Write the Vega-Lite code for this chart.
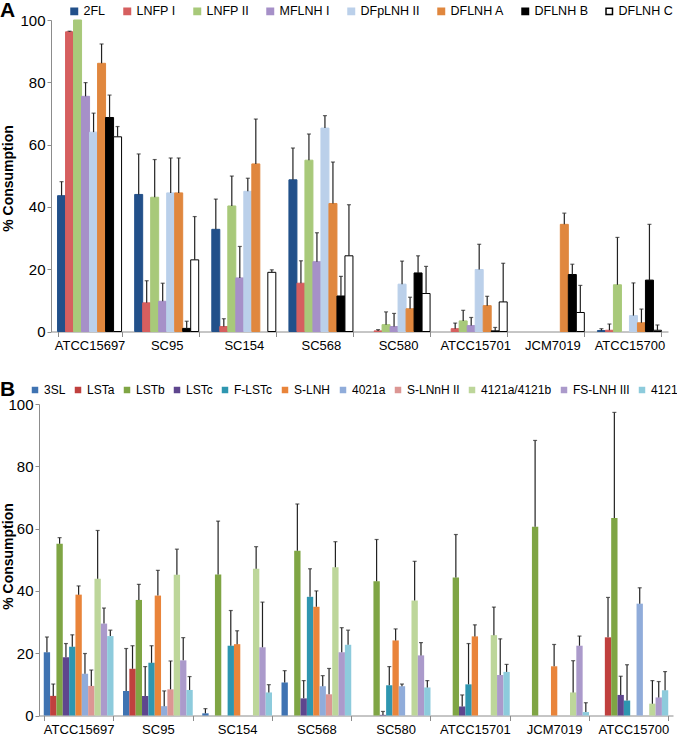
{
  "$schema": "https://vega.github.io/schema/vega-lite/v6.json",
  "padding": {"left": 0, "top": 5, "right": 0, "bottom": 0},
  "datasets": {
    "A": [
      {"strain": "ATCC15697", "hmo": "2FL", "value": 43.6, "upper": 48.1},
      {"strain": "ATCC15697", "hmo": "LNFP I", "value": 96.2, "upper": 96.4},
      {"strain": "ATCC15697", "hmo": "LNFP II", "value": 100, "upper": null},
      {"strain": "ATCC15697", "hmo": "MFLNH I", "value": 75.5, "upper": 79.9},
      {"strain": "ATCC15697", "hmo": "DFpLNH II", "value": 64.0, "upper": 70.1},
      {"strain": "ATCC15697", "hmo": "DFLNH A", "value": 86.1, "upper": 92.3},
      {"strain": "ATCC15697", "hmo": "DFLNH B", "value": 68.7, "upper": 75.9},
      {"strain": "ATCC15697", "hmo": "DFLNH C", "value": 62.5, "upper": 65.8},
      {"strain": "SC95", "hmo": "2FL", "value": 44.0, "upper": 57.0},
      {"strain": "SC95", "hmo": "LNFP I", "value": 9.2, "upper": 16.3},
      {"strain": "SC95", "hmo": "LNFP II", "value": 43.1, "upper": 55.2},
      {"strain": "SC95", "hmo": "MFLNH I", "value": 9.7, "upper": 15.5},
      {"strain": "SC95", "hmo": "DFpLNH II", "value": 44.5, "upper": 55.7},
      {"strain": "SC95", "hmo": "DFLNH A", "value": 44.5, "upper": 55.7},
      {"strain": "SC95", "hmo": "DFLNH B", "value": 1.0, "upper": 3.3},
      {"strain": "SC95", "hmo": "DFLNH C", "value": 23.0, "upper": 36.9},
      {"strain": "SC154", "hmo": "2FL", "value": 32.8, "upper": 42.5},
      {"strain": "SC154", "hmo": "LNFP I", "value": 1.6, "upper": 4.1},
      {"strain": "SC154", "hmo": "LNFP II", "value": 40.3, "upper": 49.9},
      {"strain": "SC154", "hmo": "MFLNH I", "value": 17.2, "upper": 27.3},
      {"strain": "SC154", "hmo": "DFpLNH II", "value": 45.0, "upper": 49.2},
      {"strain": "SC154", "hmo": "DFLNH A", "value": 53.8, "upper": 68.2},
      {"strain": "SC154", "hmo": "DFLNH C", "value": 19.0, "upper": 19.8},
      {"strain": "SC568", "hmo": "2FL", "value": 48.7, "upper": 58.9},
      {"strain": "SC568", "hmo": "LNFP I", "value": 15.5, "upper": 22.7},
      {"strain": "SC568", "hmo": "LNFP II", "value": 55.0, "upper": 63.4},
      {"strain": "SC568", "hmo": "MFLNH I", "value": 22.4, "upper": 31.7},
      {"strain": "SC568", "hmo": "DFpLNH II", "value": 65.3, "upper": 69.3},
      {"strain": "SC568", "hmo": "DFLNH A", "value": 41.1, "upper": 54.4},
      {"strain": "SC568", "hmo": "DFLNH B", "value": 11.4, "upper": 17.7},
      {"strain": "SC568", "hmo": "DFLNH C", "value": 24.3, "upper": 40.7},
      {"strain": "SC580", "hmo": "LNFP I", "value": 0.2, "upper": 0.6},
      {"strain": "SC580", "hmo": "LNFP II", "value": 2.2, "upper": 6.3},
      {"strain": "SC580", "hmo": "MFLNH I", "value": 1.6, "upper": 5.8},
      {"strain": "SC580", "hmo": "DFpLNH II", "value": 15.2, "upper": 22.6},
      {"strain": "SC580", "hmo": "DFLNH A", "value": 7.3, "upper": 11.0},
      {"strain": "SC580", "hmo": "DFLNH B", "value": 18.8, "upper": 24.3},
      {"strain": "SC580", "hmo": "DFLNH C", "value": 12.2, "upper": 20.9},
      {"strain": "ATCC15701", "hmo": "LNFP I", "value": 0.9, "upper": 2.7},
      {"strain": "ATCC15701", "hmo": "LNFP II", "value": 3.4, "upper": 6.8},
      {"strain": "ATCC15701", "hmo": "MFLNH I", "value": 1.9, "upper": 4.5},
      {"strain": "ATCC15701", "hmo": "DFpLNH II", "value": 19.9, "upper": 28.0},
      {"strain": "ATCC15701", "hmo": "DFLNH A", "value": 8.3, "upper": 11.3},
      {"strain": "ATCC15701", "hmo": "DFLNH B", "value": 0.2, "upper": 1.3},
      {"strain": "ATCC15701", "hmo": "DFLNH C", "value": 9.5, "upper": 21.9},
      {"strain": "JCM7019", "hmo": "DFLNH A", "value": 34.4, "upper": 38.0},
      {"strain": "JCM7019", "hmo": "DFLNH B", "value": 18.3, "upper": 21.6},
      {"strain": "JCM7019", "hmo": "DFLNH C", "value": 6.1, "upper": 14.8},
      {"strain": "ATCC15700", "hmo": "2FL", "value": 0.3, "upper": 0.9},
      {"strain": "ATCC15700", "hmo": "LNFP I", "value": 0.4, "upper": 2.4},
      {"strain": "ATCC15700", "hmo": "LNFP II", "value": 15.0, "upper": 30.2},
      {"strain": "ATCC15700", "hmo": "DFpLNH II", "value": 5.1, "upper": 15.6},
      {"strain": "ATCC15700", "hmo": "DFLNH A", "value": 2.8, "upper": 7.2},
      {"strain": "ATCC15700", "hmo": "DFLNH B", "value": 16.5, "upper": 34.4},
      {"strain": "ATCC15700", "hmo": "DFLNH C", "value": 0.4, "upper": 2.1}
    ],
    "B": [
      {"strain": "ATCC15697", "hmo": "3SL", "value": 20.3, "upper": 25.2},
      {"strain": "ATCC15697", "hmo": "LSTa", "value": 6.3, "upper": 10.1},
      {"strain": "ATCC15697", "hmo": "LSTb", "value": 55.1, "upper": 57.1},
      {"strain": "ATCC15697", "hmo": "LSTc", "value": 18.7, "upper": 23.1},
      {"strain": "ATCC15697", "hmo": "F-LSTc", "value": 22.1, "upper": 25.9},
      {"strain": "ATCC15697", "hmo": "S-LNH", "value": 38.8, "upper": 41.6},
      {"strain": "ATCC15697", "hmo": "4021a", "value": 13.4, "upper": 19.9},
      {"strain": "ATCC15697", "hmo": "S-LNnH II", "value": 9.5, "upper": 14.6},
      {"strain": "ATCC15697", "hmo": "4121a/4121b", "value": 43.9, "upper": 59.4},
      {"strain": "ATCC15697", "hmo": "FS-LNH III", "value": 29.5, "upper": 34.5},
      {"strain": "ATCC15697", "hmo": "4121", "value": 25.5, "upper": 27.4},
      {"strain": "SC95", "hmo": "3SL", "value": 7.9, "upper": 21.5},
      {"strain": "SC95", "hmo": "LSTa", "value": 15.0, "upper": 22.4},
      {"strain": "SC95", "hmo": "LSTb", "value": 37.1, "upper": 42.1},
      {"strain": "SC95", "hmo": "LSTc", "value": 6.3, "upper": 15.7},
      {"strain": "SC95", "hmo": "F-LSTc", "value": 16.9, "upper": 22.4},
      {"strain": "SC95", "hmo": "S-LNH", "value": 38.5, "upper": 46.6},
      {"strain": "SC95", "hmo": "4021a", "value": 3.0, "upper": 7.9},
      {"strain": "SC95", "hmo": "S-LNnH II", "value": 8.4, "upper": 17.5},
      {"strain": "SC95", "hmo": "4121a/4121b", "value": 45.2, "upper": 53.4},
      {"strain": "SC95", "hmo": "FS-LNH III", "value": 17.7, "upper": 25.0},
      {"strain": "SC95", "hmo": "4121", "value": 8.2, "upper": 12.5},
      {"strain": "SC154", "hmo": "3SL", "value": 0.7, "upper": 2.2},
      {"strain": "SC154", "hmo": "LSTb", "value": 45.3, "upper": 62.4},
      {"strain": "SC154", "hmo": "F-LSTc", "value": 22.4, "upper": 33.7},
      {"strain": "SC154", "hmo": "S-LNH", "value": 22.9, "upper": 27.2},
      {"strain": "SC154", "hmo": "4121a/4121b", "value": 47.1, "upper": 54.2},
      {"strain": "SC154", "hmo": "FS-LNH III", "value": 21.9, "upper": 36.4},
      {"strain": "SC154", "hmo": "4121", "value": 7.4, "upper": 9.9},
      {"strain": "SC568", "hmo": "3SL", "value": 10.6, "upper": 14.4},
      {"strain": "SC568", "hmo": "LSTb", "value": 52.9, "upper": 67.9},
      {"strain": "SC568", "hmo": "LSTc", "value": 5.5, "upper": 11.2},
      {"strain": "SC568", "hmo": "F-LSTc", "value": 38.1, "upper": 47.1},
      {"strain": "SC568", "hmo": "S-LNH", "value": 34.9, "upper": 40.0},
      {"strain": "SC568", "hmo": "4021a", "value": 9.4, "upper": 12.8},
      {"strain": "SC568", "hmo": "S-LNnH II", "value": 6.8, "upper": 15.1},
      {"strain": "SC568", "hmo": "4121a/4121b", "value": 47.6, "upper": 55.8},
      {"strain": "SC568", "hmo": "FS-LNH III", "value": 20.3, "upper": 28.2},
      {"strain": "SC568", "hmo": "4121", "value": 22.7, "upper": 27.4},
      {"strain": "SC580", "hmo": "LSTb", "value": 43.1, "upper": 56.5},
      {"strain": "SC580", "hmo": "LSTc", "value": 0.2, "upper": 1.3},
      {"strain": "SC580", "hmo": "F-LSTc", "value": 9.7, "upper": 15.7},
      {"strain": "SC580", "hmo": "S-LNH", "value": 24.1, "upper": 27.8},
      {"strain": "SC580", "hmo": "4021a", "value": 9.4, "upper": 10.1},
      {"strain": "SC580", "hmo": "4121a/4121b", "value": 36.9, "upper": 49.5},
      {"strain": "SC580", "hmo": "FS-LNH III", "value": 19.3, "upper": 23.4},
      {"strain": "SC580", "hmo": "4121", "value": 9.0, "upper": 11.2},
      {"strain": "ATCC15701", "hmo": "LSTb", "value": 44.3, "upper": 58.1},
      {"strain": "ATCC15701", "hmo": "LSTc", "value": 2.9, "upper": 6.6},
      {"strain": "ATCC15701", "hmo": "F-LSTc", "value": 10.0, "upper": 23.1},
      {"strain": "ATCC15701", "hmo": "S-LNH", "value": 25.4, "upper": 29.1},
      {"strain": "ATCC15701", "hmo": "4121a/4121b", "value": 25.8, "upper": 34.8},
      {"strain": "ATCC15701", "hmo": "FS-LNH III", "value": 13.0, "upper": 24.6},
      {"strain": "ATCC15701", "hmo": "4121", "value": 14.0, "upper": 16.4},
      {"strain": "JCM7019", "hmo": "LSTb", "value": 60.6, "upper": 88.3},
      {"strain": "JCM7019", "hmo": "S-LNH", "value": 15.8, "upper": 22.8},
      {"strain": "JCM7019", "hmo": "4121a/4121b", "value": 7.4, "upper": 17.6},
      {"strain": "JCM7019", "hmo": "FS-LNH III", "value": 22.4, "upper": 25.5},
      {"strain": "JCM7019", "hmo": "4121", "value": 1.1, "upper": 4.1},
      {"strain": "ATCC15700", "hmo": "LSTa", "value": 25.1, "upper": 37.9},
      {"strain": "ATCC15700", "hmo": "LSTb", "value": 63.4, "upper": 97.3},
      {"strain": "ATCC15700", "hmo": "LSTc", "value": 6.6, "upper": 12.6},
      {"strain": "ATCC15700", "hmo": "F-LSTc", "value": 4.8, "upper": 16.3},
      {"strain": "ATCC15700", "hmo": "4021a", "value": 35.9, "upper": 41.0},
      {"strain": "ATCC15700", "hmo": "4121a/4121b", "value": 3.8, "upper": 11.2},
      {"strain": "ATCC15700", "hmo": "FS-LNH III", "value": 5.8, "upper": 10.9},
      {"strain": "ATCC15700", "hmo": "4121", "value": 8.1, "upper": 14.1}
    ]
  },
  "resolve": {
    "scale": {"x": "independent", "xOffset": "independent", "y": "independent", "color": "independent", "stroke": "independent"},
    "legend": {"color": "independent", "stroke": "independent"},
    "axis": {"x": "independent", "y": "independent"}
  },
  "vconcat": [
    {
      "width": 629,
      "height": 311.5,
      "data": {"name": "A"},
      "encoding": {
        "x": {
          "field": "strain", "type": "nominal",
          "sort": ["ATCC15697", "SC95", "SC154", "SC568", "SC580", "ATCC15701", "JCM7019", "ATCC15700"],
          "scale": {"paddingInner": 0.17, "paddingOuter": 0.085, "range": [12, 629]},
          "axis": {"title": null, "labelAngle": 0, "tickBand": "extent", "tickSize": 5, "labelPadding": 3}
        },
        "xOffset": {
          "field": "hmo", "type": "nominal",
          "scale": {"domain": ["2FL", "LNFP I", "LNFP II", "MFLNH I", "DFpLNH II", "DFLNH A", "DFLNH B", "DFLNH C"], "paddingInner": 0, "paddingOuter": 0}
        }
      },
      "layer": [
        {
          "mark": {"type": "bar", "strokeWidth": 1},
          "encoding": {
            "y": {
              "field": "value", "type": "quantitative",
              "scale": {"domain": [0, 100], "nice": false},
              "axis": {"title": "% Consumption", "values": [0, 20, 40, 60, 80, 100], "offset": -12, "titleX": -36, "titleY": 158}
            },
            "color": {
              "field": "hmo", "type": "nominal",
              "scale": {"domain": ["2FL", "LNFP I", "LNFP II", "MFLNH I", "DFpLNH II", "DFLNH A", "DFLNH B", "DFLNH C"],
                        "range": ["#22508A", "#D65F5F", "#A8C97A", "#A690C8", "#BBD0EA", "#E0873E", "#000000", "#FFFFFF"]},
              "legend": {
                "orient": "none", "legendX": -39, "legendY": -15, "direction": "horizontal", "columns": 8,
                "title": "A", "titleOrient": "left", "titleFontSize": 21, "titleFontWeight": "bold", "titlePadding": 52,
                "symbolType": "square", "symbolSize": 42, "labelFontSize": 12.5, "columnPadding": 15, "labelOffset": 3
              }
            },
            "stroke": {
              "field": "hmo", "type": "nominal",
              "scale": {"domain": ["2FL", "LNFP I", "LNFP II", "MFLNH I", "DFpLNH II", "DFLNH A", "DFLNH B", "DFLNH C"],
                        "range": ["#22508A", "#D65F5F", "#A8C97A", "#A690C8", "#BBD0EA", "#E0873E", "#000000", "#000000"]}
            }
          }
        },
        {
          "transform": [{"filter": "datum.upper != null"}],
          "mark": {"type": "rule", "color": "#222222", "strokeWidth": 1.2},
          "encoding": {
            "y": {"field": "value", "type": "quantitative"},
            "y2": {"field": "upper"}
          }
        },
        {
          "transform": [{"filter": "datum.upper != null"}],
          "mark": {"type": "tick", "color": "#222222", "thickness": 1.2, "size": 4},
          "encoding": {
            "y": {"field": "upper", "type": "quantitative"}
          }
        }
      ]
    },
    {
      "width": 634,
      "height": 311.5,
      "data": {"name": "B"},
      "encoding": {
        "x": {
          "field": "strain", "type": "nominal",
          "sort": ["ATCC15697", "SC95", "SC154", "SC568", "SC580", "ATCC15701", "JCM7019", "ATCC15700"],
          "scale": {"paddingInner": 0.12, "paddingOuter": 0.06},
          "axis": {"title": null, "labelAngle": 0, "tickBand": "extent", "tickSize": 5, "labelPadding": 3}
        },
        "xOffset": {
          "field": "hmo", "type": "nominal",
          "scale": {"domain": ["3SL", "LSTa", "LSTb", "LSTc", "F-LSTc", "S-LNH", "4021a", "S-LNnH II", "4121a/4121b", "FS-LNH III", "4121"], "paddingInner": 0, "paddingOuter": 0}
        }
      },
      "layer": [
        {
          "mark": {"type": "bar"},
          "encoding": {
            "y": {
              "field": "value", "type": "quantitative",
              "scale": {"domain": [0, 100], "nice": false},
              "axis": {"title": "% Consumption", "values": [0, 20, 40, 60, 80, 100], "titleX": -24, "titleY": 152}
            },
            "color": {
              "field": "hmo", "type": "nominal",
              "scale": {"domain": ["3SL", "LSTa", "LSTb", "LSTc", "F-LSTc", "S-LNH", "4021a", "S-LNnH II", "4121a/4121b", "FS-LNH III", "4121"],
                        "range": ["#3F73B2", "#C0403E", "#7FA544", "#5E468E", "#2E96B0", "#E9843A", "#90ACDA", "#DC9693", "#BDD69A", "#AB9ACB", "#8DCBDC"]},
              "legend": {
                "orient": "none", "legendX": -39, "legendY": -20, "direction": "horizontal", "columns": 11,
                "title": "B", "titleOrient": "left", "titleFontSize": 21, "titleFontWeight": "bold", "titlePadding": 13,
                "symbolType": "square", "symbolSize": 42, "labelFontSize": 12, "columnPadding": 6, "labelOffset": 3
              }
            }
          }
        },
        {
          "transform": [{"filter": "datum.upper != null"}],
          "mark": {"type": "rule", "color": "#222222", "strokeWidth": 1.2},
          "encoding": {
            "y": {"field": "value", "type": "quantitative"},
            "y2": {"field": "upper"}
          }
        },
        {
          "transform": [{"filter": "datum.upper != null"}],
          "mark": {"type": "tick", "color": "#222222", "thickness": 1.2, "size": 4},
          "encoding": {
            "y": {"field": "upper", "type": "quantitative"}
          }
        }
      ]
    }
  ],
  "spacing": 31,
  "config": {
    "font": "Liberation Sans",
    "view": {"stroke": null},
    "axis": {
      "labelFont": "Liberation Sans", "labelFontSize": 13, "labelColor": "#000000",
      "titleFont": "Liberation Sans", "titleFontSize": 14, "titleFontWeight": "bold", "titleColor": "#000000",
      "domainColor": "#8C8C8C", "tickColor": "#8C8C8C", "grid": false
    },
    "axisY": {"tickSize": 4, "labelPadding": 2, "labelFontSize": 15},
    "legend": {"labelFont": "Liberation Sans", "titleFont": "Liberation Sans", "labelColor": "#000000", "titleColor": "#000000"}
  }
}
